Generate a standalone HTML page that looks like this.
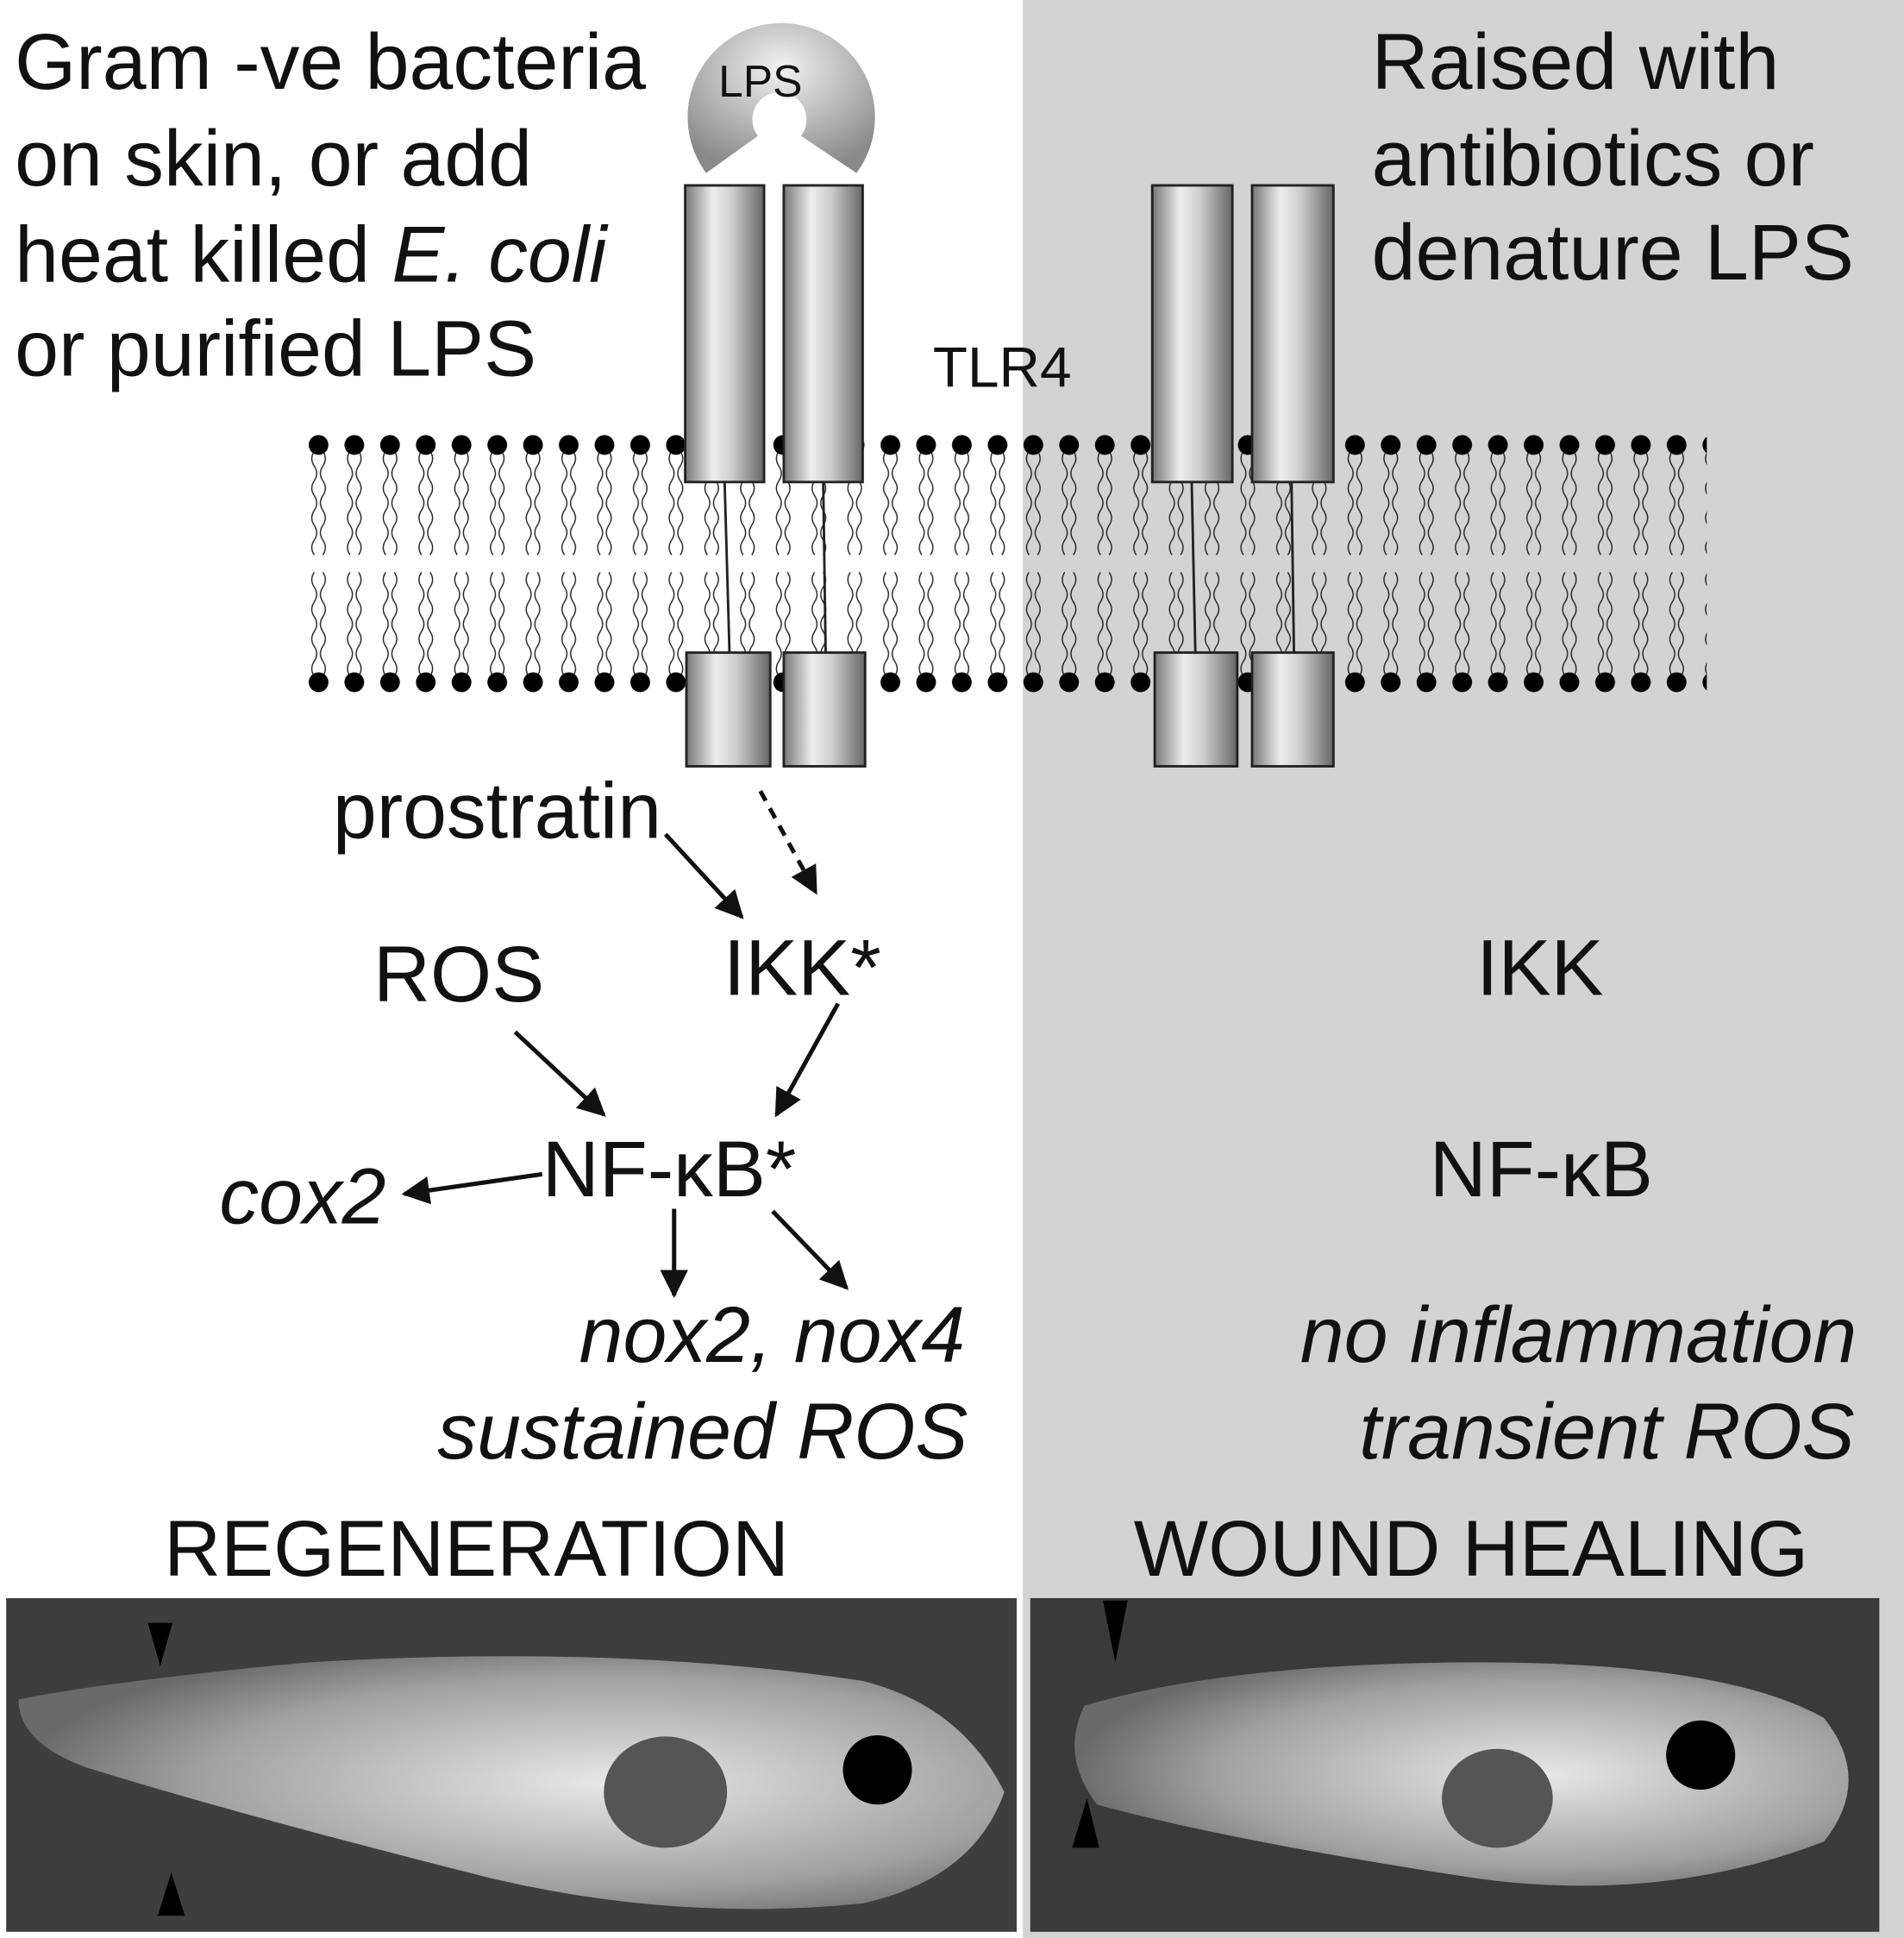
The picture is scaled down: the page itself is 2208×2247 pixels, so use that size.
<!DOCTYPE html>
<html><head><meta charset="utf-8"><style>
html,body{margin:0;padding:0;background:#fff}
svg{display:block}
text{font-family:"Liberation Sans",sans-serif;fill:#111}
</style></head><body>
<svg width="2208" height="2247" viewBox="0 0 1545 1568" preserveAspectRatio="none" xmlns="http://www.w3.org/2000/svg">
<defs>
<linearGradient id="cyl" x1="0" x2="1" y1="0" y2="0">
<stop offset="0" stop-color="#777"/><stop offset="0.35" stop-color="#eee"/><stop offset="0.6" stop-color="#ccc"/><stop offset="1" stop-color="#666"/>
</linearGradient>
<radialGradient id="lps" cx="0.5" cy="0.3" r="0.7">
<stop offset="0" stop-color="#f2f2f2"/><stop offset="1" stop-color="#8a8a8a"/>
</radialGradient>
<radialGradient id="tad1" cx="0.6" cy="0.5" r="0.6">
<stop offset="0" stop-color="#e8e8e8"/><stop offset="0.7" stop-color="#a0a0a0"/><stop offset="1" stop-color="#6a6a6a"/>
</radialGradient>
<marker id="ah" viewBox="0 0 10 10" refX="9" refY="5" markerWidth="6.5" markerHeight="6.5" orient="auto"><path d="M0,0 L10,5 L0,10 z" fill="#111"/></marker>
<pattern id="lip" x="244" y="352" width="29" height="208" patternUnits="userSpaceOnUse">
<g stroke="#222" stroke-width="1" fill="none">
<path d="M11,13 q-4,6 0,12 q4,6 0,12 q-4,6 0,12 q4,6 0,12 q-4,6 0,12 q4,6 0,12 q-4,6 0,12"/>
<path d="M18,13 q4,6 0,12 q-4,6 0,12 q4,6 0,12 q-4,6 0,12 q4,6 0,12 q-4,6 0,12 q4,6 0,12"/>
<path d="M11,195 q-4,-6 0,-12 q4,-6 0,-12 q-4,-6 0,-12 q4,-6 0,-12 q-4,-6 0,-12 q4,-6 0,-12 q-4,-6 0,-12"/>
<path d="M18,195 q4,-6 0,-12 q-4,-6 0,-12 q4,-6 0,-12 q-4,-6 0,-12 q4,-6 0,-12 q-4,-6 0,-12 q4,-6 0,-12"/>
</g>
<circle cx="14.5" cy="8" r="8" fill="#000"/>
<circle cx="14.5" cy="200" r="8" fill="#000"/>
</pattern>
</defs>
<rect x="830" y="0" width="715" height="1568" fill="#d3d3d3"/>
<rect x="244" y="352" width="1141" height="208" fill="url(#lip)"/>
<path d="M573,140 A76,76 0 1 1 695,140 L650,110 A22,22 0 1 0 615,110 Z" fill="url(#lps)"/>
<text x="583" y="78" font-size="36">LPS</text>
<g stroke="#222" stroke-width="2">
<line x1="588" y1="390" x2="592" y2="530"/><line x1="668" y1="390" x2="670" y2="530"/>
<line x1="967" y1="390" x2="970" y2="530"/><line x1="1048" y1="390" x2="1050" y2="530"/>
<rect x="556" y="150" width="64" height="240" fill="url(#cyl)"/>
<rect x="636" y="150" width="64" height="240" fill="url(#cyl)"/>
<rect x="935" y="150" width="65" height="240" fill="url(#cyl)"/>
<rect x="1016" y="150" width="66" height="240" fill="url(#cyl)"/>
<rect x="557" y="528" width="68" height="92" fill="url(#cyl)"/>
<rect x="636" y="528" width="66" height="92" fill="url(#cyl)"/>
<rect x="937" y="528" width="67" height="92" fill="url(#cyl)"/>
<rect x="1016" y="528" width="66" height="92" fill="url(#cyl)"/>
</g>
<text x="757" y="313" font-size="46">TLR4</text>
<g font-size="64">
<text x="12" y="72">Gram -ve bacteria</text>
<text x="12" y="150">on skin, or add</text>
<text x="12" y="228">heat killed <tspan font-style="italic">E. coli</tspan></text>
<text x="12" y="304">or purified LPS</text>
<text x="1113" y="72">Raised with</text>
<text x="1113" y="150">antibiotics or</text>
<text x="1113" y="226">denature LPS</text>
<text x="270" y="678">prostratin</text>
<text x="303" y="810">ROS</text>
<text x="587" y="805">IKK*</text>
<text x="440" y="968">NF-κB*</text>
<text x="178" y="990" font-style="italic">cox2</text>
<text x="470" y="1102" font-style="italic">nox2, nox4</text>
<text x="355" y="1180" font-style="italic">sustained ROS</text>
<text x="1198" y="805">IKK</text>
<text x="1160" y="968">NF-κB</text>
<text x="1055" y="1102" font-style="italic">no inflammation</text>
<text x="1103" y="1180" font-style="italic">transient ROS</text>
<text x="133" y="1275">REGENERATION</text>
<text x="920" y="1275">WOUND HEALING</text>
</g>
<g stroke="#111" stroke-width="3.5" marker-end="url(#ah)" fill="none">
<line x1="540" y1="675" x2="602" y2="742"/>
<line x1="617" y1="640" x2="662" y2="722" stroke-dasharray="9,7"/>
<line x1="680" y1="812" x2="630" y2="902"/>
<line x1="418" y1="835" x2="490" y2="902"/>
<line x1="440" y1="950" x2="328" y2="966"/>
<line x1="547" y1="978" x2="547" y2="1048"/>
<line x1="627" y1="980" x2="687" y2="1042"/>
</g>
<rect x="5" y="1293" width="820" height="270" fill="#3e3e3e"/>
<path d="M15,1375 Q90,1360 250,1345 Q500,1330 700,1360 Q780,1380 815,1450 Q790,1520 700,1540 Q550,1555 400,1520 Q200,1470 70,1430 Q15,1410 15,1375Z" fill="url(#tad1)"/>
<ellipse cx="540" cy="1450" rx="50" ry="45" fill="#555"/>
<circle cx="712" cy="1432" r="28" fill="#000"/>
<path d="M120,1313 L140,1313 L130,1348 Z M128,1550 L150,1550 L139,1515 Z" fill="#000"/>
<rect x="836" y="1293" width="689" height="270" fill="#3a3a3a"/>
<path d="M880,1380 Q1000,1345 1200,1345 Q1400,1345 1480,1390 Q1520,1440 1480,1490 Q1350,1540 1200,1520 Q1000,1490 890,1460 Q860,1420 880,1380Z" fill="url(#tad1)"/>
<ellipse cx="1215" cy="1455" rx="45" ry="40" fill="#555"/>
<circle cx="1380" cy="1420" r="28" fill="#000"/>
<path d="M895,1295 L915,1295 L905,1345 Z M870,1495 L892,1495 L882,1455 Z" fill="#000"/>
</svg>
</body></html>
